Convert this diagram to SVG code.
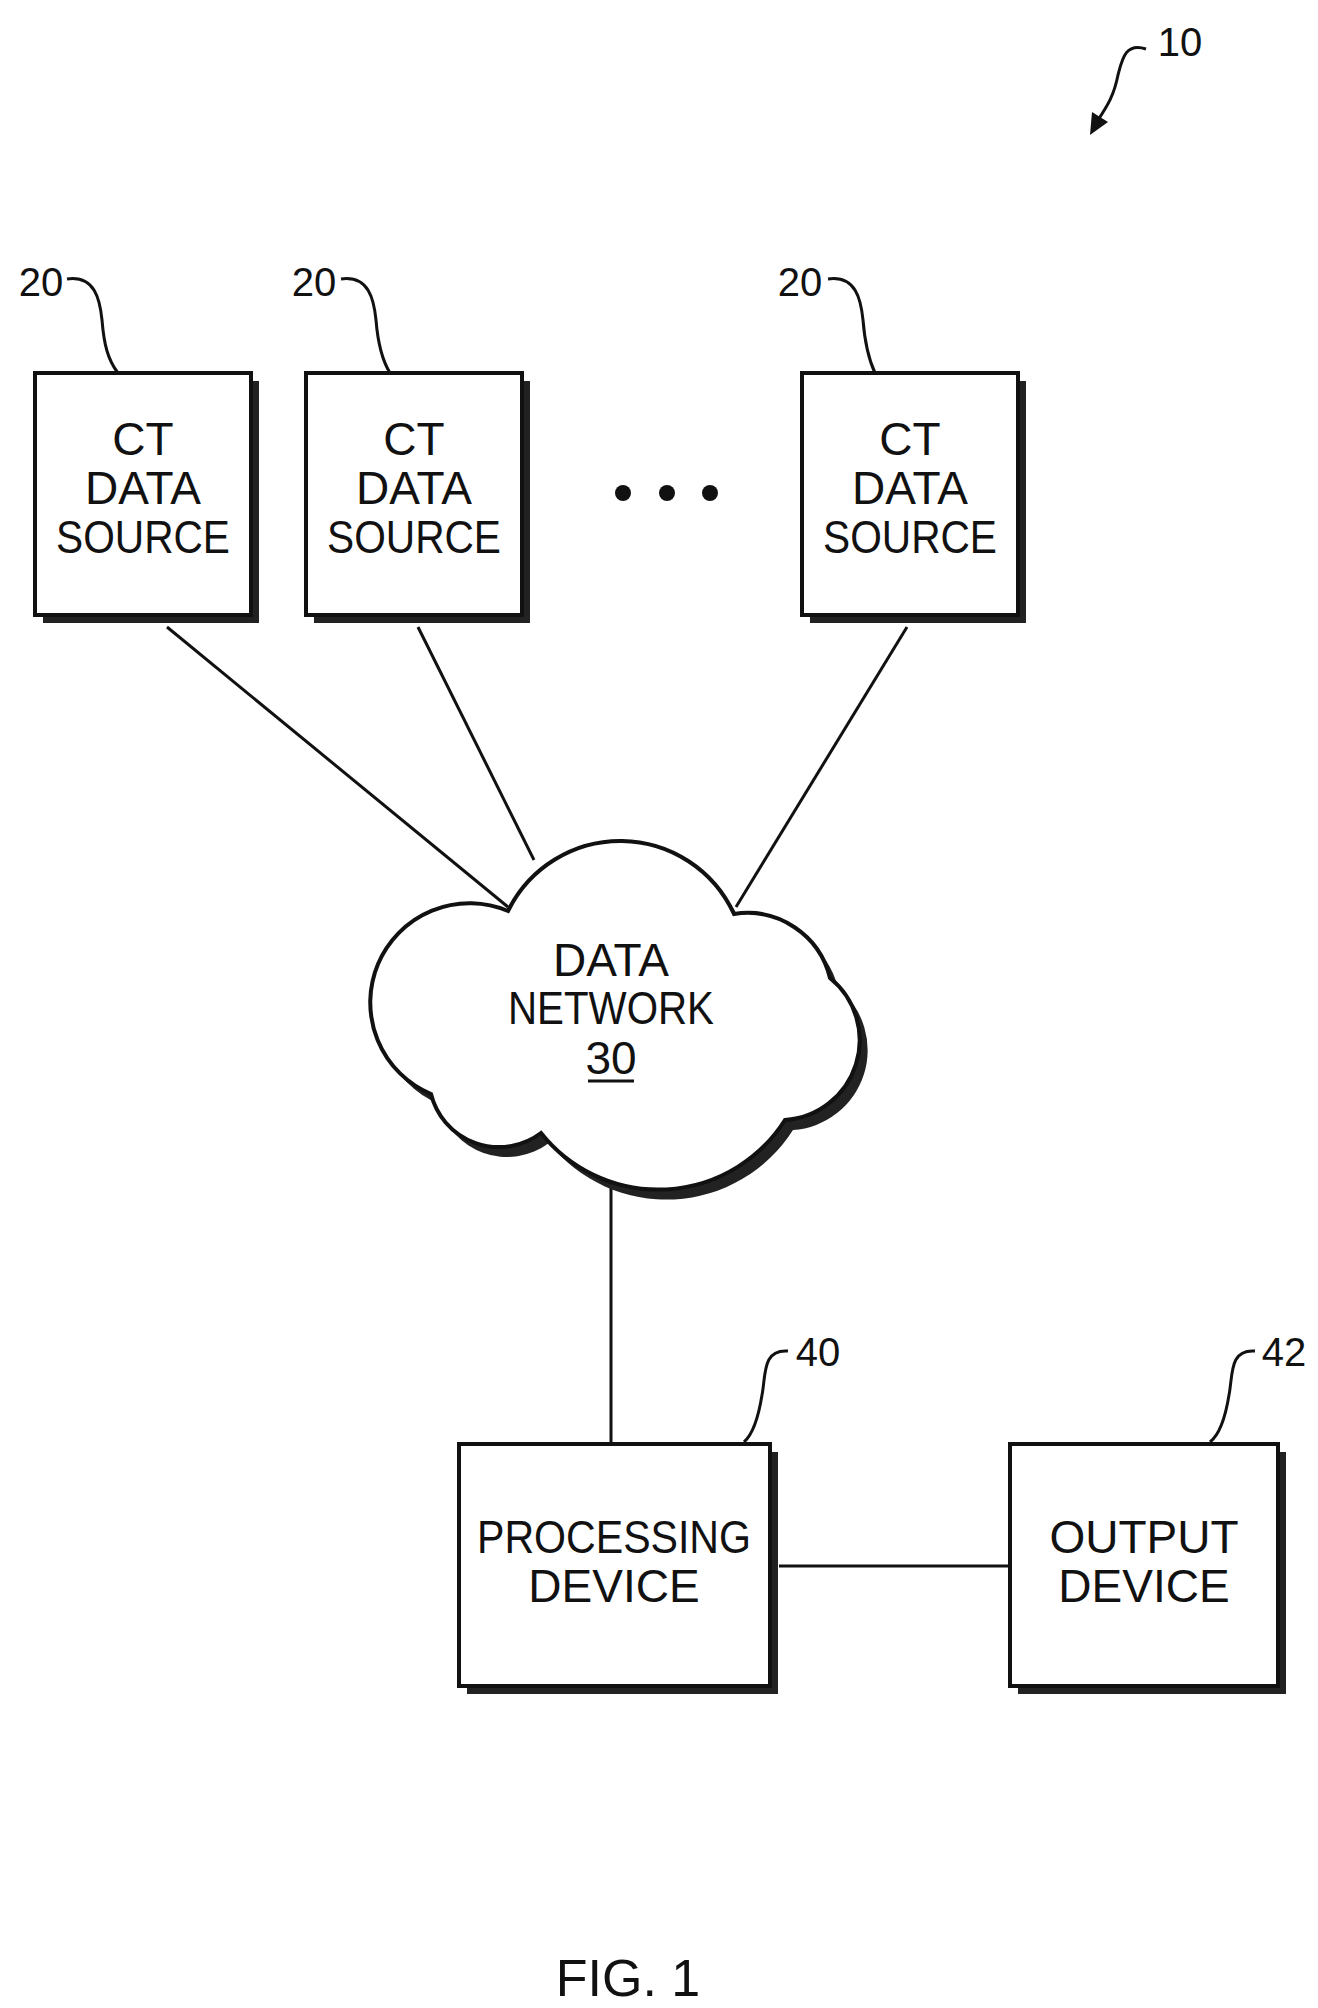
<svg xmlns="http://www.w3.org/2000/svg" width="1318" height="2008" viewBox="0 0 1318 2008">
<style>
.t{font-family:"Liberation Sans",Arial,sans-serif;font-size:46px;fill:#111;text-anchor:middle}
.b{fill:#fff;stroke:#111;stroke-width:4}
.s{fill:#222}
.l{fill:none;stroke:#111;stroke-width:3}
</style>
<defs><path id="cloud" d="M508,911 A125,125 0 0 1 734,914 A85,85 0 0 1 830,978 A80,80 0 0 1 785,1120 A150,150 0 0 1 541,1133 A70,70 0 0 1 431,1094 A85,85 0 0 1 508,911 Z"/></defs>
<g id="connectors" class="l">
<line x1="167" y1="627" x2="508" y2="907"/>
<line x1="418" y1="627" x2="534" y2="860"/>
<line x1="907" y1="627" x2="736" y2="907"/>
<line x1="611" y1="1178" x2="611" y2="1444"/>
<line x1="779" y1="1566" x2="1010" y2="1566"/>
<path d="M67,279 C95,275 100,300 102,320 C104,345 108,360 118,373"/>
<path d="M341,279 C369,275 374,300 376,320 C378,345 382,360 390,373"/>
<path d="M828,279 C856,275 861,300 863,320 C865,345 869,360 875,373"/>
<path d="M788,1351 C762,1349 766,1375 762,1395 C758,1420 752,1435 744,1442"/>
<path d="M1255,1351 C1229,1349 1233,1375 1229,1395 C1225,1420 1219,1435 1210,1442"/>
<path d="M1146,49 C1125,42 1122,60 1118,75 C1114,95 1108,105 1098,120"/>
</g>
<polygon points="1090,135 1092,112 1108,122" fill="#111"/>
<text class="t" x="1180" y="56" style="font-size:40px">10</text>
<g id="n1"><rect class="s" x="43" y="381" width="216" height="242"/><rect class="b" x="35" y="373" width="216" height="242"/>
<text class="t" x="143" y="455">CT</text><text class="t" x="143" y="504">DATA</text><text class="t" x="143" y="553" textLength="174" lengthAdjust="spacingAndGlyphs">SOURCE</text>
<text class="t" x="41" y="296" style="font-size:40px">20</text></g>
<g id="n2"><rect class="s" x="314" y="381" width="216" height="242"/><rect class="b" x="306" y="373" width="216" height="242"/>
<text class="t" x="414" y="455">CT</text><text class="t" x="414" y="504">DATA</text><text class="t" x="414" y="553" textLength="174" lengthAdjust="spacingAndGlyphs">SOURCE</text>
<text class="t" x="314" y="296" style="font-size:40px">20</text></g>
<g id="dots" fill="#111"><circle cx="623" cy="493" r="8"/><circle cx="667" cy="493" r="8"/><circle cx="710" cy="493" r="8"/></g>
<g id="n3"><rect class="s" x="810" y="381" width="216" height="242"/><rect class="b" x="802" y="373" width="216" height="242"/>
<text class="t" x="910" y="455">CT</text><text class="t" x="910" y="504">DATA</text><text class="t" x="910" y="553" textLength="174" lengthAdjust="spacingAndGlyphs">SOURCE</text>
<text class="t" x="800" y="296" style="font-size:40px">20</text></g>
<g id="network"><use href="#cloud" transform="translate(8,10)" class="s"/><use href="#cloud" class="b"/>
<text class="t" x="611" y="976">DATA</text><text class="t" x="611" y="1024" textLength="206" lengthAdjust="spacingAndGlyphs">NETWORK</text><text class="t" x="611" y="1074">30</text>
<line x1="588" y1="1081" x2="634" y2="1081" stroke="#111" stroke-width="3"/></g>
<g id="proc"><rect class="s" x="467" y="1452" width="311" height="242"/><rect class="b" x="459" y="1444" width="311" height="242"/>
<text class="t" x="614" y="1553" textLength="274" lengthAdjust="spacingAndGlyphs">PROCESSING</text><text class="t" x="614" y="1602">DEVICE</text>
<text class="t" x="818" y="1366" style="font-size:40px">40</text></g>
<g id="out"><rect class="s" x="1018" y="1452" width="268" height="242"/><rect class="b" x="1010" y="1444" width="268" height="242"/>
<text class="t" x="1144" y="1553">OUTPUT</text><text class="t" x="1144" y="1602">DEVICE</text>
<text class="t" x="1284" y="1366" style="font-size:40px">42</text></g>
<text class="t" x="628" y="1996" style="font-size:52px">FIG. 1</text>
</svg>
